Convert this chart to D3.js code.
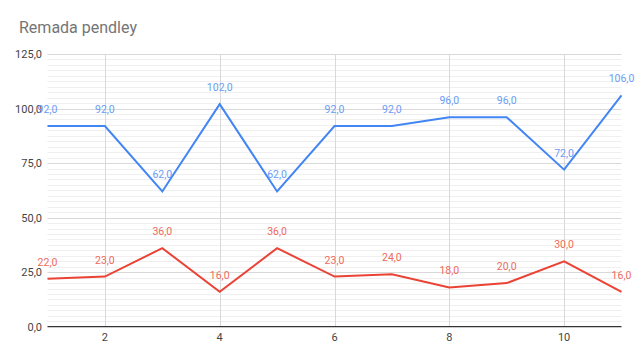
<!DOCTYPE html>
<html><head><meta charset="utf-8">
<script src="https://cdn.jsdelivr.net/npm/d3@7"></script>
<style>body{margin:0;background:#fff}svg{display:block;font-family:Roboto,Arial,sans-serif}</style>
</head><body><svg id="c" width="640" height="361"></svg>
<script>
const title = "Remada pendley";
const xValues = [1,2,3,4,5,6,7,8,9,10,11];
const seriesBlue = [92,92,62,102,62,92,92,96,96,72,106];
const seriesRed = [22,23,36,16,36,23,24,18,20,30,16];
const yTicks = [0,25,50,75,100,125];
const xTicks = [2,4,6,8,10];

const loc = d3.formatLocale({decimal:",",thousands:".",grouping:[3],currency:["",""]});
const fmt = loc.format(".1f");
const svg = d3.select("#c");
const x = d3.scaleLinear().domain([1,11]).range([47.5,621.5]);
const y = d3.scaleLinear().domain([0,125]).range([326.7,54]);

svg.append("text").attr("x",19).attr("y",33).attr("font-size",16).attr("fill","#757575").text(title);

// minor gridlines
const minor = d3.range(0,125.01,2.5).filter(v=>v%25!==0);
svg.append("g").selectAll("line").data(minor).join("line")
  .attr("x1",x(1)).attr("x2",x(11)).attr("y1",d=>Math.round(y(d))+0.5).attr("y2",d=>Math.round(y(d))+0.5)
  .attr("stroke","#efefef").attr("stroke-width",1);
// major horizontal
svg.append("g").selectAll("line").data(yTicks.filter(v=>v>0)).join("line")
  .attr("x1",x(1)).attr("x2",x(11)).attr("y1",d=>Math.round(y(d))+0.5).attr("y2",d=>Math.round(y(d))+0.5)
  .attr("stroke","#d9d9d9").attr("stroke-width",1);
// vertical
svg.append("g").selectAll("line").data(xTicks).join("line")
  .attr("x1",d=>Math.round(x(d))+0.5).attr("x2",d=>Math.round(x(d))+0.5).attr("y1",y(125)).attr("y2",y(0))
  .attr("stroke","#d9d9d9").attr("stroke-width",1);
// baseline
svg.append("line").attr("x1",x(1)).attr("x2",x(11)).attr("y1",y(0)).attr("y2",y(0)).attr("stroke","#333").attr("stroke-width",1.3);

// axis labels
svg.append("g").selectAll("text").data(yTicks).join("text")
  .attr("x",42).attr("y",d=>y(d)+4).attr("text-anchor","end").attr("font-size",11).attr("fill","#444")
  .text(d=>fmt(d));
svg.append("g").selectAll("text").data(xTicks).join("text")
  .attr("x",d=>x(d)).attr("y",341).attr("text-anchor","middle").attr("font-size",11).attr("fill","#444")
  .text(d=>d);

const line = d3.line().x((d,i)=>x(xValues[i])).y(d=>y(d));
function drawSeries(vals, color, labelColor){
  svg.append("path").datum(vals).attr("d",line).attr("fill","none").attr("stroke",color).attr("stroke-width",2).attr("stroke-linejoin","miter");
  svg.append("g").selectAll("text").data(vals).join("text")
    .attr("x",(d,i)=>x(xValues[i])).attr("y",d=>y(d)-13).attr("text-anchor","middle")
    .attr("font-size",10.5).attr("fill",labelColor).text(d=>fmt(d));
}
drawSeries(seriesBlue,"#4285f4","#6b9cf6");
drawSeries(seriesRed,"#ea4335","#ee6a5c");
</script></body></html>
